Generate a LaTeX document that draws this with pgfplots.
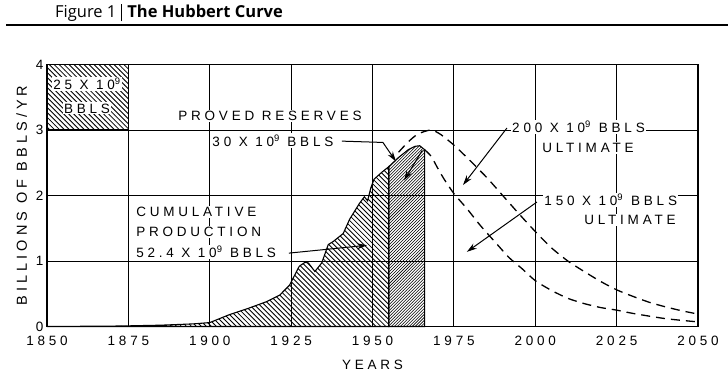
\documentclass[border=0pt]{standalone}
\usepackage{fontspec}
\setmainfont{Liberation Sans}
\newfontfamily\lettering[LetterSpace=28]{Liberation Sans}
\newfontfamily\titlefont{Open Sans}
\usepackage{pgfplots}
\pgfplotsset{compat=1.18}
\usetikzlibrary{patterns,arrows.meta}
\pgfdeclarepatternformonly{hatchNW}{\pgfpoint{-1pt}{-1pt}}{\pgfpoint{6pt}{6pt}}{\pgfpoint{5pt}{5pt}}{%
  \pgfsetlinewidth{0.85pt}%
  \pgfpathmoveto{\pgfqpoint{-0.1pt}{5.1pt}}%
  \pgfpathlineto{\pgfqpoint{5.1pt}{-0.1pt}}%
  \pgfusepath{stroke}}
\pgfdeclarepatternformonly{hatchNE}{\pgfpoint{-1pt}{-1pt}}{\pgfpoint{4pt}{4pt}}{\pgfpoint{3pt}{3pt}}{%
  \pgfsetlinewidth{0.55pt}%
  \pgfpathmoveto{\pgfqpoint{-0.1pt}{-0.1pt}}%
  \pgfpathlineto{\pgfqpoint{3.1pt}{3.1pt}}%
  \pgfusepath{stroke}}
\newcommand\lt{\lettering\fontsize{13.5bp}{15bp}\selectfont}
\newcommand\ltb{\lettering\fontsize{14.5bp}{16bp}\selectfont}
\begin{document}
\begin{tikzpicture}
\path[use as bounding box] (0,0) rectangle (728bp,374bp);
\node[anchor=base west, inner sep=0, font=\titlefont\fontsize{16.5bp}{19bp}\selectfont] at (55bp,356bp) {Figure 1\hspace{5bp}\rule[-3.5bp]{1bp}{17bp}\hspace{5bp}\textbf{The Hubbert Curve}};
\draw[line width=1.6bp] (6bp,349bp) -- (728bp,349bp);
\begin{axis}[at={(47bp,47.5bp)}, anchor=south west, scale only axis,
  width=651bp, height=262bp,
  xmin=1850, xmax=2050, ymin=0, ymax=4,
  xtick={1850,1875,...,2050}, ytick={0,1,2,3,4},
  grid=major, grid style={black, line width=0.9bp},
  axis line style={line width=1.4bp},
  tick style={draw=none},
  /pgf/number format/assume math mode=true,
  /pgf/number format/1000 sep={},
  xticklabel style={font=\lt, yshift=-6bp},
  yticklabel style={font=\lt},
  xlabel={YEARS}, ylabel={BILLIONS OF BBLS/YR},
  xlabel style={font=\lt, yshift=-8bp},
  ylabel style={font=\ltb, yshift=2bp},
  axis on top, clip=false]
% 25 x 10^9 box
\addplot[draw=black, line width=1.3bp, pattern=hatchNW]
  coordinates {(1850,3) (1875,3) (1875,4) (1850,4) (1850,3)};
% cumulative production
\addplot[draw=black, line width=1.1bp, pattern=hatchNW]
  coordinates {(1850,0) (1860,0.003) (1870,0.006) (1875,0.01) (1885,0.02) (1895,0.04) (1900,0.06)
  (1906,0.18) (1912,0.28) (1917.5,0.38) (1921.5,0.48) (1924.5,0.63) (1927.5,0.92) (1929.3,0.98)
  (1930.3,0.97) (1932.3,0.84) (1934.4,0.97) (1936.4,1.25) (1938,1.30) (1941,1.42) (1943,1.64)
  (1946,1.88) (1947.5,1.98) (1948.5,1.92) (1949.5,2.12) (1950.5,2.25) (1953,2.36) (1955,2.44)} \closedcycle;
% proved reserves
\addplot[draw=black, line width=1.1bp, pattern=hatchNE]
  coordinates {(1955,2.44) (1958,2.58) (1961,2.70) (1963,2.75) (1964.5,2.76) (1966,2.70)} \closedcycle;
% 200 x 10^9 ultimate
\addplot[black, line width=1.3bp, dash pattern=on 9bp off 6bp, smooth, tension=0.4]
  coordinates {(1958,2.66) (1961,2.82) (1964,2.94) (1968,3.0) (1971,2.93) (1975,2.77) (1979,2.58)
  (1985,2.28) (1990,2.0) (1995,1.72) (2000,1.45) (2005,1.2) (2010,1.0) (2015,0.84) (2020,0.69)
  (2025,0.56) (2030,0.46) (2035,0.37) (2040,0.30) (2045,0.24) (2050,0.19)};
% 150 x 10^9 ultimate
\addplot[black, line width=1.3bp, dash pattern=on 9bp off 6bp, smooth, tension=0.4]
  coordinates {(1966,2.70) (1968,2.6) (1970,2.42) (1972,2.25) (1975,2.03) (1979,1.8) (1983,1.55)
  (1988,1.27) (1992,1.05) (1996,0.88) (2000,0.70) (2005,0.55) (2010,0.43) (2015,0.35) (2020,0.29)
  (2025,0.25) (2030,0.2) (2040,0.12) (2050,0.07)};
\coordinate (a25) at (axis cs:1862.3,3.70);
\coordinate (aBB) at (axis cs:1862.3,3.33);
\coordinate (pr1) at (axis cs:1918.5,3.22);
\coordinate (pr2) at (axis cs:1919.4,2.84);
\coordinate (prA) at (axis cs:1940.6,2.83);
\coordinate (prB) at (axis cs:1953.2,2.81);
\coordinate (prC) at (axis cs:1957.2,2.52);
\coordinate (prD) at (axis cs:1965.3,2.69);
\coordinate (prE) at (axis cs:1959.7,2.23);
\coordinate (cu1) at (axis cs:1877,1.745);
\coordinate (cu2) at (axis cs:1877,1.44);
\coordinate (cu3) at (axis cs:1877,1.14);
\coordinate (cuA) at (axis cs:1924.3,1.12);
\coordinate (cuB) at (axis cs:1948.3,1.24);
\coordinate (u1) at (axis cs:1992.5,3.045);
\coordinate (u2) at (axis cs:2016.2,2.72);
\coordinate (uA) at (axis cs:1991.3,3.03);
\coordinate (uB) at (axis cs:1977.8,2.16);
\coordinate (v1) at (axis cs:2002.4,1.93);
\coordinate (v2) at (axis cs:2029.1,1.62);
\coordinate (vA) at (axis cs:2000.5,1.90);
\coordinate (vB) at (axis cs:1979,1.14);
\end{axis}
\tikzset{lab/.style={fill=white, inner sep=1.2bp, font=\lt}, arr/.style={line width=1bp, -{Stealth[length=10bp,width=6bp]}}}
\node[lab] at (a25) {25 X 10\textsuperscript{9}};
\node[lab] at (aBB) {BBLS};
\node[lab] at (pr1) {PROVED RESERVES};
\node[lab] at (pr2) {30 X 10\textsuperscript{9} BBLS};
\draw[arr] (prA) -- (prB) -- (prC);
\draw[arr] (prD) -- (prE);
\node[lab, anchor=west] at (cu1) {CUMULATIVE};
\node[lab, anchor=west] at (cu2) {PRODUCTION};
\node[lab, anchor=west] at (cu3) {52.4 X 10\textsuperscript{9} BBLS};
\draw[arr] (cuA) -- (cuB);
\node[lab, anchor=west] at (u1) {200 X 10\textsuperscript{9}\hspace{8bp}BBLS};
\node[lab] at (u2) {ULTIMATE};
\draw[arr] (uA) -- (uB);
\node[lab, anchor=west] at (v1) {150 X 10\textsuperscript{9}\hspace{8bp}BBLS};
\node[lab] at (v2) {ULTIMATE};
\draw[arr] (vA) -- (vB);
\end{tikzpicture}
\end{document}
